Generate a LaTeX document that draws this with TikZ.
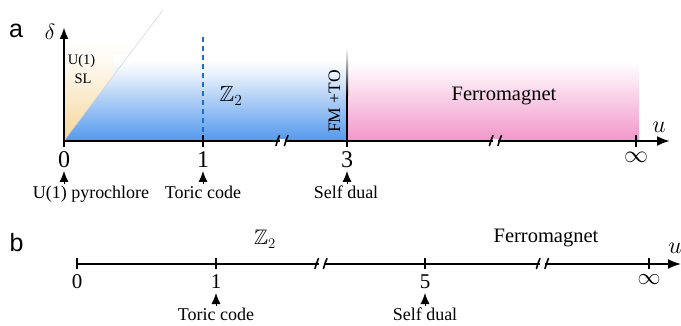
\RequirePackage{fix-cm}
\documentclass[tikz,border=0pt]{standalone}
\usepackage{amssymb}
\usepackage{fontspec}
\setmainfont{Liberation Serif}
\newfontfamily\panelfont{Liberation Sans}
\usetikzlibrary{arrows.meta}

\definecolor{zblue}{RGB}{84,152,236}
\definecolor{slyellow}{RGB}{245,212,150}
\definecolor{fmpink}{RGB}{242,150,202}
\definecolor{dashblue}{RGB}{30,110,210}

\pgfdeclareverticalshading{bluefade}{100bp}{color(0bp)=(zblue); color(25bp)=(zblue); color(48bp)=(zblue!50!white); color(64bp)=(zblue!14!white); color(72bp)=(white); color(100bp)=(white)}
\pgfdeclareverticalshading{pinkfade}{100bp}{color(0bp)=(fmpink); color(25bp)=(fmpink); color(48bp)=(fmpink!50!white); color(64bp)=(fmpink!14!white); color(72bp)=(white); color(100bp)=(white)}
\pgfdeclareverticalshading{yellowfade}{100bp}{color(0bp)=(slyellow); color(25bp)=(slyellow); color(45bp)=(slyellow!50!white); color(62bp)=(slyellow!14!white); color(72bp)=(white); color(100bp)=(white)}

\newcommand\fsz[1]{\fontsize{#1}{#1}\selectfont}

\begin{document}
\begin{tikzpicture}[x=1pt,y=-1pt,
  axisA/.style={line width=2.3pt},
  axisB/.style={line width=1.8pt},
  tickA/.style={line width=1.8pt},
  tickB/.style={line width=1.6pt},
  brk/.style={line width=1.6pt, line cap=round},
  gap/.style={fill=white, draw=none},
  tri/.style={line width=0.9pt, -{Latex[length=11pt,width=9pt]}},
  numA/.style={font=\fsz{24}, anchor=base, inner sep=0pt},
  numB/.style={font=\fsz{21}, anchor=base, inner sep=0pt},
  lbl/.style={font=\fsz{18}, anchor=base, inner sep=0pt},
  phase/.style={font=\fsz{20.5}, anchor=base, inner sep=0pt},
  small/.style={font=\fsz{14.5}, anchor=base, inner sep=0pt},
  panel/.style={font=\panelfont\fsz{25}, anchor=base, inner sep=0pt}
]
\useasboundingbox (0,0) rectangle (681,326);

% ---------------- panel a ----------------
\coordinate (a0) at (64,141);
\coordinate (a1) at (203,141);
\coordinate (a3) at (347,141);
\coordinate (ainf) at (636,141);
\coordinate (aend) at (670,141);
\coordinate (dtop) at (64,27);
\coordinate (dbot) at (64,147);

% shaded phases
\shade[shading=yellowfade] (64,141) -- (64,35) -- (144,35) -- cycle;
\shade[shading=bluefade] (64,141) -- (113.5,75.5) -- (113.5,55) -- (347,55) -- (347,141) -- cycle;
\shade[shading=pinkfade] (347,55) rectangle (639,141);
\draw[gray!40, line width=0.4pt] (a0) -- (163,10);

% dashed toric code line
\draw[dashblue, line width=1.5pt, dash pattern=on 5pt off 4pt] (a1) -- (203,34);

% self-dual boundary line
\draw[line width=2pt] (a3) -- (347,95);
\shade[top color=white, bottom color=black] (346,95.5) rectangle (348,48);

% axes
\draw[axisA, -{Latex[length=13pt,width=10pt]}] (a0) -- (aend);
\draw[axisA, -{Latex[length=12pt,width=9pt]}] (dbot) -- (dtop);
\foreach \c in {a1,a3,ainf} \draw[tickA] (\c) ++(0,-6) -- ++(0,12);

% axis breaks
\fill[gap] (279.5,139) rectangle (284.5,143.5);
\draw[brk] (276,145.5) .. controls (277.5,141) and (277.5,139) .. (279.5,135.5);
\draw[brk] (284.5,145.5) .. controls (286,141) and (286,139) .. (288,135.5);
\fill[gap] (493,139) rectangle (498,143.5);
\draw[brk] (489.5,145.5) .. controls (491,141) and (491,139) .. (493,135.5);
\draw[brk] (498,145.5) .. controls (499.5,141) and (499.5,139) .. (501.5,135.5);

% axis labels
\node[panel] (pa) at (16,38) {a};
\node[font=\fsz{22}] (delta) at (50,32) {$\delta$};
\node[font=\fsz{24}] (ua) at (659,127) {$u$};

% numbers
\node[numA] (n0) at (64,168) {0};
\node[numA] (n1) at (203,168) {1};
\node[numA] (n3) at (347,168) {3};
\node[font=\fsz{24}, inner sep=0pt] (ninf) at (636,157.5) {$\infty$};

% phase labels
\node[small] (u1) at (81.5,65) {U(1)};
\node[small] (sl) at (83,83.5) {SL};
\node[font=\fsz{22}, anchor=base, inner sep=0pt] (z2a) at (231,102) {$\mathbb{Z}_2$};
\node[font=\fsz{17.5}, rotate=90, inner sep=0pt] (fmto) at (334.5,101.5) {FM +TO};
\node[phase] (fma) at (504,101) {Ferromagnet};

% special points
\node[lbl] (l0) at (91,199) {U(1) pyrochlore};
\node[lbl] (l1) at (203,199) {Toric code};
\node[lbl] (l3) at (346,199) {Self dual};
\coordinate (t0b) at (64,184); \coordinate (t0a) at (64,171);
\coordinate (t1b) at (203,184); \coordinate (t1a) at (203,171);
\coordinate (t3b) at (347,184); \coordinate (t3a) at (347,171);
\draw[tri] (t0b) -- (t0a);
\draw[tri] (t1b) -- (t1a);
\draw[tri] (t3b) -- (t3a);

% ---------------- panel b ----------------
\coordinate (b0) at (77,264);
\coordinate (b1) at (216,264);
\coordinate (b5) at (425,264);
\coordinate (binf) at (649,264);
\coordinate (bend) at (681,264);

\draw[axisB, -{Latex[length=13pt,width=10pt]}] (b0) -- (bend);
\foreach \c in {b0,b1,b5,binf} \draw[tickB] (\c) ++(0,-5.5) -- ++(0,11);

\fill[gap] (318.5,262) rectangle (323.5,266.5);
\draw[brk] (315,268.5) .. controls (316.5,264) and (316.5,262) .. (318.5,258.5);
\draw[brk] (323.5,268.5) .. controls (325,264) and (325,262) .. (327,258.5);
\fill[gap] (540,262) rectangle (545,266.5);
\draw[brk] (536.5,268.5) .. controls (538,264) and (538,262) .. (540,258.5);
\draw[brk] (545,268.5) .. controls (546.5,264) and (546.5,262) .. (548.5,258.5);

\node[panel] (pb) at (16.5,252) {b};
\node[font=\fsz{24}] (ub) at (675,248) {$u$};

\node[numB] (m0) at (77,289) {0};
\node[numB] (m1) at (216,289) {1};
\node[numB] (m5) at (425,289) {5};
\node[font=\fsz{23}, inner sep=0pt] (minf) at (649,280) {$\infty$};

\node[font=\fsz{21}, anchor=base, inner sep=0pt] (z2b) at (265,245) {$\mathbb{Z}_2$};
\node[phase] (fmb) at (546,243) {Ferromagnet};

\node[lbl] (k1) at (216,320) {Toric code};
\node[lbl] (k5) at (425,320) {Self dual};
\coordinate (s1b) at (216,306); \coordinate (s1a) at (216,293);
\coordinate (s5b) at (425,306); \coordinate (s5a) at (425,293);
\draw[tri] (s1b) -- (s1a);
\draw[tri] (s5b) -- (s5a);
\end{tikzpicture}
\end{document}
